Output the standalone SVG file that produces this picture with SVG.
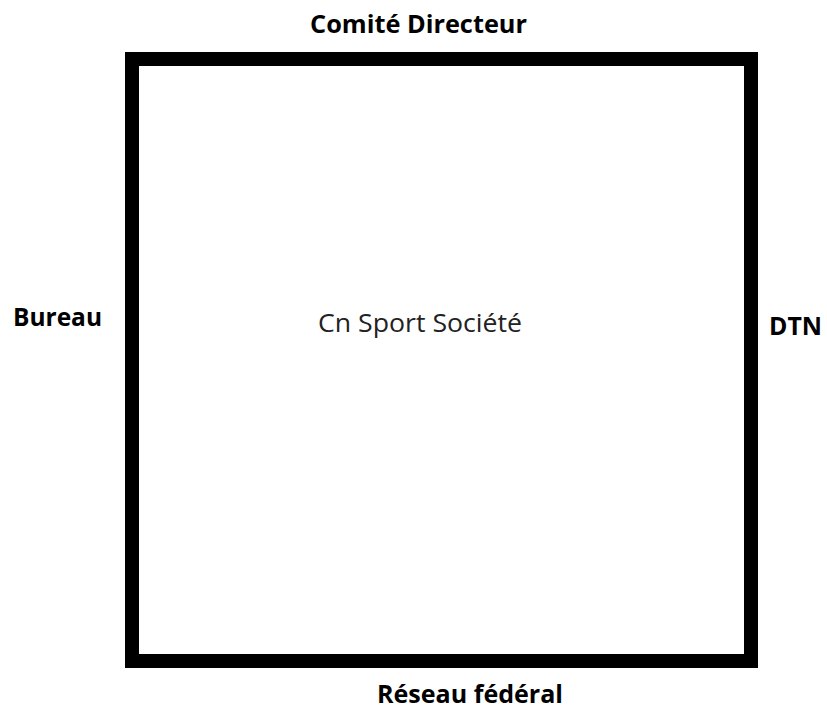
<svg xmlns="http://www.w3.org/2000/svg" width="827" height="709" viewBox="0 0 827 709">
<style>
.lbl{font-family:"Open Sans","Liberation Sans",sans-serif;font-size:25px;font-weight:bold;fill:#000}
.ctr{font-family:"Open Sans","Liberation Sans",sans-serif;font-size:25px;fill:#222}
</style>
<rect width="827" height="709" fill="#fff"/>
<g id="box">
<rect x="132" y="59" width="619" height="602" fill="#fff" stroke="#000" stroke-width="14"/>
<text class="ctr" x="318" y="332" textLength="204" lengthAdjust="spacingAndGlyphs">Cn Sport Société</text>
</g>
<g id="comite"><text class="lbl" x="310" y="33" textLength="217" lengthAdjust="spacingAndGlyphs">Comité Directeur</text></g>
<g id="bureau"><text class="lbl" x="13" y="326" textLength="89" lengthAdjust="spacingAndGlyphs">Bureau</text></g>
<g id="dtn"><text class="lbl" x="769" y="335" textLength="53" lengthAdjust="spacingAndGlyphs">DTN</text></g>
<g id="reseau"><text class="lbl" x="377" y="703" textLength="186" lengthAdjust="spacingAndGlyphs">Réseau fédéral</text></g>
<g id="connectors"></g>
</svg>
